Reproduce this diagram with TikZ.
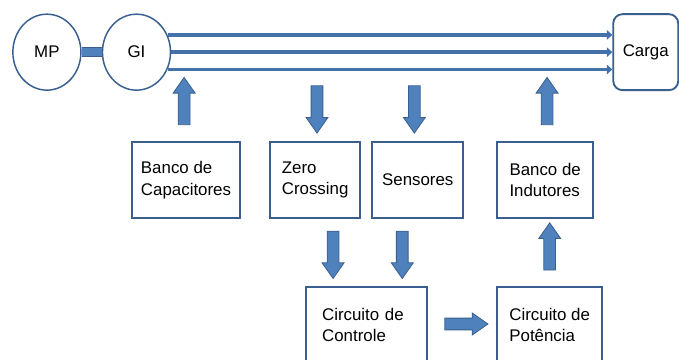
\documentclass[tikz,border=0pt]{standalone}
\usepackage{fontspec}
\setmainfont{Liberation Sans}
\usetikzlibrary{arrows.meta, positioning, calc, shapes.geometric, shapes.arrows}
\definecolor{edgeblue}{HTML}{3A5F8E}
\definecolor{fillblue}{HTML}{4F81BD}
\definecolor{lineblue}{HTML}{4571A9}

\tikzset{
  block/.style={draw=edgeblue, line width=1.4pt, fill=white, minimum height=2.01cm,
    inner sep=0pt, align=left, font=\fontsize{12.7}{16.3}\selectfont},
  machine/.style={ellipse, draw=edgeblue, line width=1.1pt, fill=white,
    minimum width=1.8cm, minimum height=2.01cm, inner sep=0pt, font=\fontsize{12.7}{16.3}\selectfont},
  fatarrow/.style={single arrow, draw=edgeblue, fill=fillblue, line width=0.6pt,
    minimum height=1.25cm, minimum width=0.56cm, single arrow head extend=0.135cm,
    single arrow tip angle=70, inner xsep=0pt, inner ysep=0.145cm},
  bus/.style={lineblue, line width=2.6pt, -{Triangle[length=4pt, width=7pt]}},
}

\begin{document}
\begin{tikzpicture}

% Page
\useasboundingbox (0,0) rectangle (17.96,9.50);
\fill[white] (0,0) rectangle (17.96,9.50);

% Machines and load
\node[machine] (mp) at (1.24,8.12) {MP};
\node[machine] (gi) at (3.61,8.12) {GI};
\node[block, rounded corners=7pt, minimum width=1.72cm] (carga) at (17.08,8.12) {Carga};

% Shaft coupling
\draw[edgeblue, line width=0.6pt, double=fillblue, double distance=6.5pt] (mp) -- (gi);

% Three-phase lines
\foreach \a in {29,0,-29} {
  \draw[bus] (gi.\a) -- (gi.\a -| carga.west);
}

% Middle row
\node[block, minimum width=2.86cm] (capac) at (4.92,4.736) {Banco de\\Capacitores};
\node[block, minimum width=2.38cm] (zero) at (8.335,4.736) {Zero\\Crossing};
\node[block, minimum width=2.41cm] (sens) at (11.05,4.736) {Sensores};
\node[block, minimum width=2.54cm] (indut) at (14.42,4.736) {Banco de\\Indutores};

% Bottom row
\node[block, minimum width=3.20cm, text width=2.36cm] (ctrl) at (9.70,0.90) {Circuito de\\Controle};
\node[block, minimum width=2.78cm] (pot) at (14.54,0.90) {Circuito de\\Potência};

% Block arrows
\node[fatarrow, rotate=90] (a1) at ($(capac.north)+(-0.05,0.95)$) {};
\node[fatarrow, rotate=-90] (a2) at ($(zero.north)+(0.05,0.95)$) {};
\node[fatarrow, rotate=-90] (a3) at ($(sens.north)+(-0.09,0.95)$) {};
\node[fatarrow, rotate=90] (a4) at ($(indut.north)+(0.05,0.95)$) {};
\node[fatarrow, rotate=-90] (a5) at ($(ctrl.north)+(-0.89,0.94)$) {};
\node[fatarrow, rotate=-90] (a6) at ($(ctrl.north)+(0.94,0.94)$) {};
\node[fatarrow, rotate=90] (a7) at ($(pot.north)+(0,0.94)$) {};
\node[fatarrow, minimum height=1.14cm] (a8) at ($(ctrl.east)!0.5!(pot.west)+(0,0.03)$) {};

\end{tikzpicture}
\end{document}
